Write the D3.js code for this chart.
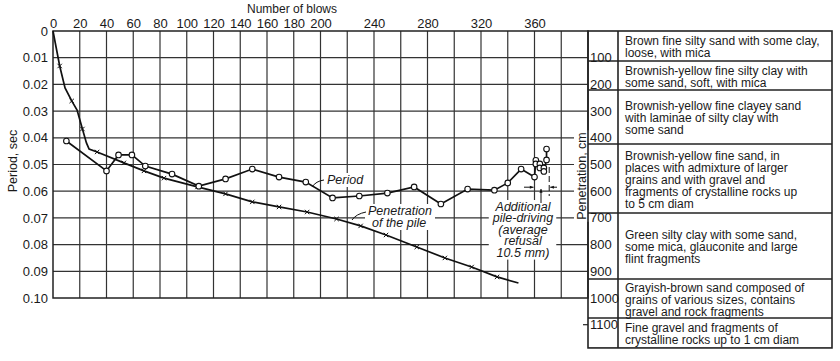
<!DOCTYPE html>
<html lang="en">
<head>
    <meta charset="UTF-8">
    <title>Period and penetration vs number of blows</title>
    <script src="https://d3js.org/d3.v7.min.js"></script>
    <style>
        body {
            margin: 0;
            background-color: #fff;
            font-family: 'Liberation Sans', Arial, sans-serif;
        }
        .grid line {
            stroke: #333;
            stroke-width: 1.2;
        }
        .lbl {
            font-size: 13px;
            fill: #1a1a1a;
        }
        .note {
            font-size: 12.5px;
            font-style: italic;
            fill: #1a1a1a;
        }
        .layer-text {
            font-size: 12px;
            fill: #1a1a1a;
        }
        .curve {
            fill: none;
            stroke: #111;
            stroke-width: 1.7;
        }
    </style>
</head>
<body>
    <svg id="chart"></svg>

    <script>
        // axis ticks
        const blowTicks = [0, 20, 40, 60, 80, 100, 120, 140, 160, 180, 200, 240, 280, 320, 360];
        const periodTicks = [0, 0.01, 0.02, 0.03, 0.04, 0.05, 0.06, 0.07, 0.08, 0.09, 0.10];
        const depthTicks = [100, 200, 300, 400, 500, 600, 700, 800, 900, 1000, 1100];

        // period curve (circles)
        const periodBlows = [10, 40, 49, 59, 69, 89, 109, 129, 149, 169, 189, 209, 229, 250, 270, 290, 310, 330, 340, 350, 360,
                             361, 361, 364, 364, 367, 367, 369, 369];
        const periodSec = [0.0412, 0.0524, 0.0464, 0.0464, 0.0506, 0.0536, 0.0581, 0.0554, 0.0517, 0.0547, 0.0566, 0.0625,
                           0.0618, 0.0607, 0.0584, 0.0648, 0.0592, 0.0596, 0.0569, 0.0517, 0.0547,
                           0.0484, 0.0498, 0.0498, 0.0513, 0.0513, 0.0526, 0.0483, 0.0442];

        // penetration of the pile (x marks), cm
        const penBlows = [0, 5, 9, 14, 18, 22, 25, 27, 33, 53, 68, 83, 108, 129, 149, 169, 190, 212, 230, 249, 272, 293, 313, 332, 348];
        const penDepth = [0, 131, 213, 262, 296, 367, 419, 442, 453, 494, 524, 551, 584, 610, 640, 659, 678, 704, 730, 764, 809, 850, 884, 921, 944];
        const penMarked = [0, 1, 0, 1, 0, 1, 0, 0, 1, 1, 1, 1, 1, 1, 1, 1, 1, 1, 1, 1, 1, 1, 1, 1, 0];

        // soil layers, cm
        const layerTops = [0, 112, 221, 423, 682, 929, 1075];
        const layerBottom = 1187;
        const layerText = [
            ["Brown fine silty sand with some clay,", "loose, with mica"],
            ["Brownish-yellow fine silty clay with", "some sand, soft, with mica"],
            ["Brownish-yellow fine clayey sand", "with laminae of silty clay with", "some sand"],
            ["Brownish-yellow fine sand, in", "places with admixture of larger", "grains and with gravel and",
             "fragments of crystalline rocks up", "to 5 cm diam"],
            ["Green silty clay with some sand,", "some mica, glauconite and large", "flint fragments"],
            ["Grayish-brown sand composed of", "grains of various sizes, contains", "gravel and rock fragments"],
            ["Fine gravel and fragments of", "crystalline rocks up to 1 cm diam"]
        ];

        const W = 840, H = 361;
        const svg = d3.select("#chart")
            .attr("width", W)
            .attr("height", H);

        const x = d3.scaleLinear().domain([0, 400]).range([53, 588]);
        const y = d3.scaleLinear().domain([0, 0.10]).range([31, 298]);
        const yPen = d3.scaleLinear().domain([0, 1000]).range([31, 298]);

        const tableL = 588, tableM = 618, tableR = 832;

        // grid
        const grid = svg.append("g").attr("class", "grid");
        grid.selectAll(".vg")
            .data(d3.range(20, 400, 20))
            .enter().append("line")
            .attr("x1", d => x(d)).attr("x2", d => x(d))
            .attr("y1", y(0)).attr("y2", y(0.10));
        grid.selectAll(".hg")
            .data(periodTicks.slice(1, -1))
            .enter().append("line")
            .attr("x1", x(0)).attr("x2", tableL)
            .attr("y1", d => y(d)).attr("y2", d => y(d));

        // frame
        svg.append("rect")
            .attr("x", x(0)).attr("y", y(0))
            .attr("width", tableL - x(0)).attr("height", y(0.10) - y(0))
            .attr("fill", "none").attr("stroke", "#222").attr("stroke-width", 1.5);

        // top axis
        const topAxis = svg.append("g")
            .attr("transform", `translate(0,${y(0)})`)
            .call(d3.axisTop(x).tickValues(blowTicks).tickSize(0).tickPadding(3).tickFormat(d3.format("d")));
        topAxis.select(".domain").remove();
        topAxis.selectAll("text").attr("class", "lbl").style("font-size", "13px");

        svg.append("text")
            .attr("class", "lbl")
            .attr("x", 292).attr("y", 13)
            .attr("text-anchor", "middle")
            .style("font-size", "12px")
            .text("Number of blows");

        // left axis
        const leftAxis = svg.append("g")
            .attr("transform", `translate(${x(0)},0)`)
            .call(d3.axisLeft(y).tickValues(periodTicks).tickSize(0).tickPadding(5)
                .tickFormat(d => d === 0 ? "0" : d3.format(".2f")(d)));
        leftAxis.select(".domain").remove();
        leftAxis.selectAll("text").attr("class", "lbl").style("font-size", "13px");

        svg.append("text")
            .attr("class", "lbl")
            .attr("transform", `translate(17,161) rotate(-90)`)
            .attr("text-anchor", "middle")
            .style("font-size", "12.5px")
            .text("Period, sec");

        // layer for white boxes under labels
        const masks = svg.append("g");
        const labels = svg.append("g");

        // soil table
        const table = svg.append("g");
        table.append("rect")
            .attr("x", tableL).attr("y", yPen(0))
            .attr("width", tableR - tableL).attr("height", yPen(layerBottom) - yPen(0))
            .attr("fill", "none").attr("stroke", "#222").attr("stroke-width", 1.6);
        table.append("line")
            .attr("x1", tableM).attr("x2", tableM)
            .attr("y1", yPen(0)).attr("y2", yPen(layerBottom))
            .attr("stroke", "#222").attr("stroke-width", 1.6);
        table.selectAll(".sep")
            .data(layerTops.slice(1))
            .enter().append("line")
            .attr("x1", tableL).attr("x2", tableR)
            .attr("y1", d => yPen(d)).attr("y2", d => yPen(d))
            .attr("stroke", "#222").attr("stroke-width", 1.5);
        table.append("line")
            .attr("x1", tableL - 5).attr("x2", tableL)
            .attr("y1", yPen(1100)).attr("y2", yPen(1100))
            .attr("stroke", "#222").attr("stroke-width", 1.2);

        table.selectAll(".depth")
            .data(depthTicks)
            .enter().append("text")
            .attr("class", "lbl")
            .attr("x", tableL + 2)
            .attr("y", d => yPen(d))
            .attr("dy", "0.35em")
            .text(d => d);

        layerText.forEach((lines, i) => {
            const top = yPen(layerTops[i]);
            const bot = yPen(i + 1 < layerTops.length ? layerTops[i + 1] : layerBottom);
            const mid = (top + bot) / 2 + 1;
            const t = table.append("text")
                .attr("class", "layer-text")
                .attr("x", tableM + 7);
            lines.forEach((s, j) => {
                t.append("tspan")
                    .attr("x", tableM + 7)
                    .attr("y", mid + (j - (lines.length - 1) / 2) * 12)
                    .attr("dy", "0.35em")
                    .text(s);
            });
        });

        // right axis title
        labels.append("text")
            .attr("class", "lbl mask")
            .attr("transform", `translate(586,176) rotate(-90)`)
            .attr("text-anchor", "middle")
            .style("font-size", "12.5px")
            .text("Penetration, cm");

        // annotations
        labels.append("text")
            .attr("class", "note mask")
            .attr("x", 327).attr("y", 184)
            .text("Period");

        const penNote = labels.append("text")
            .attr("class", "note mask")
            .attr("x", 368).attr("y", 215);
        penNote.append("tspan").attr("x", 368).attr("y", 215).text("Penetration");
        penNote.append("tspan").attr("x", 372).attr("y", 227).text("of the pile");

        const addNote = labels.append("text")
            .attr("class", "note mask")
            .attr("text-anchor", "middle");
        ["Additional", "pile-driving", "(average", "refusal", "10.5 mm)"].forEach((s, j) => {
            addNote.append("tspan").attr("x", 523).attr("y", 211 + j * 11.4).text(s);
        });

        labels.selectAll(".mask").each(function() {
            const b = this.getBBox();
            const m = this.getCTM();
            // account for rotation on the axis title
            if (this.getAttribute("transform")) {
                masks.append("rect")
                    .attr("x", m.e + b.y - 1).attr("y", m.f - b.x - b.width - 2)
                    .attr("width", b.height + 2).attr("height", b.width + 4)
                    .attr("fill", "#fff");
            } else {
                masks.append("rect")
                    .attr("x", b.x - 3).attr("y", b.y)
                    .attr("width", b.width + 6).attr("height", b.height)
                    .attr("fill", "#fff");
            }
        });

        // curves
        const curves = svg.append("g");
        const penLine = d3.line()
            .x(d => x(penBlows[d]))
            .y(d => yPen(penDepth[d]));
        curves.append("path")
            .attr("class", "curve")
            .attr("d", penLine(d3.range(penBlows.length)));

        const periodLine = d3.line()
            .x(d => x(periodBlows[d]))
            .y(d => y(periodSec[d]));
        curves.append("path")
            .attr("class", "curve")
            .attr("d", periodLine(d3.range(periodBlows.length)));

        // x marks
        curves.selectAll(".xm")
            .data(d3.range(penBlows.length).filter(i => penMarked[i]))
            .enter().append("path")
            .attr("d", i => {
                const cx = x(penBlows[i]), cy = yPen(penDepth[i]), r = 2.2;
                return `M${cx - r},${cy - r}L${cx + r},${cy + r}M${cx - r},${cy + r}L${cx + r},${cy - r}`;
            })
            .attr("stroke", "#111").attr("stroke-width", 1);

        // circles
        curves.selectAll(".pt")
            .data(d3.range(periodBlows.length))
            .enter().append("circle")
            .attr("cx", i => x(periodBlows[i]))
            .attr("cy", i => y(periodSec[i]))
            .attr("r", 2.8)
            .attr("fill", "#fff")
            .attr("stroke", "#111")
            .attr("stroke-width", 1.1);

        // leaders
        const lead = svg.append("g").attr("fill", "none").attr("stroke", "#111").attr("stroke-width", 1);
        lead.append("path").attr("d", "M312,187 Q316,181 324,180");
        lead.append("path").attr("d", "M352,220 Q356,214 366,212");

        // additional pile-driving marks
        lead.append("line")
            .attr("x1", x(371)).attr("x2", x(371))
            .attr("y1", 167).attr("y2", 196)
            .attr("stroke-dasharray", "6,3");
        const arrow = (x1, y1, x2, y2) => {
            const a = Math.atan2(y2 - y1, x2 - x1), h = 4;
            lead.append("line").attr("x1", x1).attr("y1", y1).attr("x2", x2).attr("y2", y2);
            lead.append("path")
                .attr("fill", "#111").attr("stroke", "none")
                .attr("d", `M${x2},${y2}L${x2 - h * Math.cos(a - 0.4)},${y2 - h * Math.sin(a - 0.4)}` +
                    `L${x2 - h * Math.cos(a + 0.4)},${y2 - h * Math.sin(a + 0.4)}Z`);
        };
        arrow(524, y(0.06) - 4, x(360) - 1, y(0.06) - 4);
        arrow(557, y(0.06) - 4, x(371) + 1, y(0.06) - 4);
        arrow(541, 203, 541, 189);
    </script>
</body>
</html>
